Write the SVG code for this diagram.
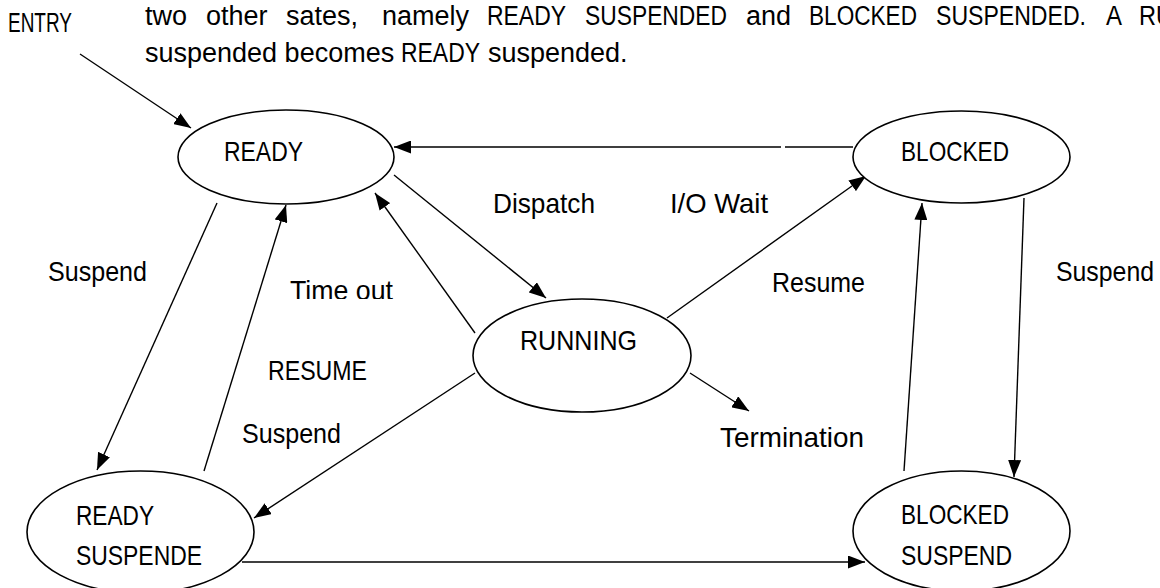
<svg xmlns="http://www.w3.org/2000/svg" width="1160" height="588" viewBox="0 0 1160 588">
<style>
text{font-family:"Liberation Sans",Arial,sans-serif;font-size:28px;fill:#000}
#paragraph text{font-size:27px}
.node ellipse{fill:#fff;stroke:#000;stroke-width:1.6}
.conn line{stroke:#000;stroke-width:1.4;fill:none}
.arr{marker-end:url(#ah)}
</style>
<defs>
<marker id="ah" markerUnits="userSpaceOnUse" markerWidth="17" markerHeight="13" refX="17" refY="6.5" orient="auto">
<path d="M0,0 L17,6.5 L0,13 z" fill="#000"/>
</marker>
<clipPath id="cut"><rect x="280" y="270" width="130" height="29"/></clipPath>
</defs>
<rect width="1160" height="588" fill="#fff"/>
<g id="paragraph">
<text x="145" y="25">two</text>
<text x="206" y="25">other</text>
<text x="286" y="25">sates,</text>
<text x="382" y="25">namely</text>
<text x="487" y="25" textLength="79" lengthAdjust="spacingAndGlyphs">READY</text>
<text x="585" y="25" textLength="142" lengthAdjust="spacingAndGlyphs">SUSPENDED</text>
<text x="746" y="25">and</text>
<text x="809" y="25" textLength="108" lengthAdjust="spacingAndGlyphs">BLOCKED</text>
<text x="936" y="25" textLength="150" lengthAdjust="spacingAndGlyphs">SUSPENDED.</text>
<text x="1106" y="25" textLength="16" lengthAdjust="spacingAndGlyphs">A</text>
<text x="1139" y="25" textLength="34" lengthAdjust="spacingAndGlyphs">RU</text>
<text x="145" y="62">suspended becomes</text>
<text x="401" y="62" textLength="79" lengthAdjust="spacingAndGlyphs">READY</text>
<text x="488" y="62">suspended.</text>
</g>
<g id="conn" class="conn">
<line class="arr" x1="80" y1="54" x2="191" y2="128"/>
<line class="arr" x1="853" y1="147" x2="394" y2="147" stroke-dasharray="68 4 1000"/>
<line class="arr" x1="394" y1="175" x2="546" y2="298"/>
<line class="arr" x1="475" y1="333" x2="375" y2="193"/>
<line class="arr" x1="217" y1="203" x2="97" y2="470"/>
<line class="arr" x1="204" y1="471" x2="286" y2="205"/>
<line class="arr" x1="475" y1="373" x2="254" y2="518"/>
<line class="arr" x1="667" y1="318" x2="866" y2="176"/>
<line class="arr" x1="690" y1="373" x2="749" y2="411"/>
<line class="arr" x1="904" y1="471" x2="922" y2="203"/>
<line class="arr" x1="1024" y1="198" x2="1014" y2="477"/>
<line class="arr" x1="242" y1="562" x2="865" y2="562"/>
</g>
<g id="entry"><text x="8" y="32" textLength="64" lengthAdjust="spacingAndGlyphs">ENTRY</text></g>
<g id="ready" class="node">
<ellipse cx="286" cy="157" rx="108" ry="47"/>
<text x="224" y="161" textLength="79" lengthAdjust="spacingAndGlyphs">READY</text>
</g>
<g id="blocked" class="node">
<ellipse cx="961.5" cy="157" rx="108.5" ry="46"/>
<text x="901" y="161" textLength="108" lengthAdjust="spacingAndGlyphs">BLOCKED</text>
</g>
<g id="running" class="node">
<ellipse cx="582" cy="355.5" rx="109" ry="56.5"/>
<text x="520" y="350" textLength="117" lengthAdjust="spacingAndGlyphs">RUNNING</text>
</g>
<g id="ready-suspended" class="node">
<ellipse cx="140.5" cy="532" rx="113.5" ry="61"/>
<text x="76" y="525" textLength="78" lengthAdjust="spacingAndGlyphs">READY</text>
<text x="76" y="565" textLength="126" lengthAdjust="spacingAndGlyphs">SUSPENDE</text>
</g>
<g id="blocked-suspended" class="node">
<ellipse cx="961.5" cy="531" rx="108.5" ry="60"/>
<text x="901" y="524" textLength="108" lengthAdjust="spacingAndGlyphs">BLOCKED</text>
<text x="901" y="565" textLength="111" lengthAdjust="spacingAndGlyphs">SUSPEND</text>
</g>
<g id="labels">
<text x="493" y="213" textLength="102" lengthAdjust="spacingAndGlyphs">Dispatch</text>
<text x="670" y="213" textLength="98" lengthAdjust="spacingAndGlyphs">I/O Wait</text>
<text x="48" y="281" textLength="99" lengthAdjust="spacingAndGlyphs">Suspend</text>
<text x="290" y="300" textLength="103" lengthAdjust="spacingAndGlyphs" clip-path="url(#cut)">Time out</text>
<text x="772" y="292" textLength="93" lengthAdjust="spacingAndGlyphs">Resume</text>
<text x="1056" y="281" textLength="98" lengthAdjust="spacingAndGlyphs">Suspend</text>
<text x="268" y="380" textLength="99" lengthAdjust="spacingAndGlyphs">RESUME</text>
<text x="242" y="443" textLength="99" lengthAdjust="spacingAndGlyphs">Suspend</text>
<text x="720" y="447" textLength="144" lengthAdjust="spacingAndGlyphs">Termination</text>
</g>
</svg>
